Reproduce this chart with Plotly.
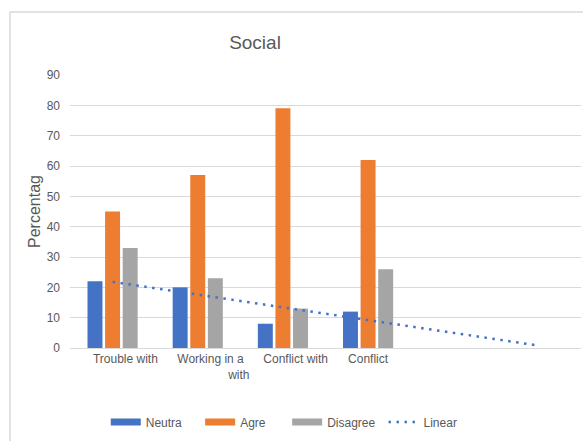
import numpy as np
import plotly.graph_objects as go

categories = ["Trouble with", "Working in a<br>" + "\u00a0" * 17 + "with", "Conflict with", "Conflict"]
label_offsets = [0.15, 0.15, 0.15, 0.0]
neutral = [22, 20, 8, 12]
agree = [45, 57, 79, 62]
disagree = [33, 23, 13, 26]
y_ticks = [0, 10, 20, 30, 40, 50, 60, 70, 80, 90]

BLUE, ORANGE, GRAY = "#4472C4", "#ED7D31", "#A5A5A5"
TXT = "#595959"
FONT = "Liberation Sans, Arial, sans-serif"
NB = "\u00a0"
DOTS = "2.5px,5.5px"

x = np.arange(1, len(categories) + 1)
n_forward = 2
coef = np.polyfit(x, neutral, 1)
x_tr = np.array([1, len(categories) + n_forward])
y_tr = np.polyval(coef, x_tr)

fig = go.Figure()
for name, vals, col in [("Neutra", neutral, BLUE), ("Agre", agree, ORANGE), ("Disagree", disagree, GRAY)]:
    fig.add_trace(go.Bar(x=x, y=vals, name=name, marker=dict(color=col, line=dict(width=0)), showlegend=False))
fig.add_trace(go.Scatter(x=x_tr, y=y_tr, mode="lines", line=dict(color=BLUE, width=2.5, dash=DOTS),
                         showlegend=False, hoverinfo="skip"))
# legend entries
for name, col in [("Neutra" + NB * 4, BLUE), ("Agre" + NB * 5, ORANGE), ("Disagree" + NB * 1, GRAY)]:
    fig.add_trace(go.Scatter(x=[None], y=[None], mode="lines", name=name, line=dict(color=col, width=7)))
fig.add_trace(go.Scatter(x=[None], y=[None], mode="lines", name="Linear",
                         line=dict(color=BLUE, width=2.5, dash=DOTS)))

fig.update_layout(
    width=583, height=441,
    margin=dict(l=70, r=2, t=75, b=93),
    paper_bgcolor="white", plot_bgcolor="white",
    font=dict(family=FONT, size=12, color=TXT),
    barmode="group", bargap=0.38, bargroupgap=0.15,
    title=dict(text="Social", x=255 / 583, xanchor="center", y=1 - 42 / 441, yanchor="middle",
               font=dict(size=19, color=TXT)),
    legend=dict(orientation="h", x=0.07, xanchor="left", y=-0.271, yanchor="middle",
                font=dict(size=12, color=TXT), itemwidth=30, traceorder="normal"),
    showlegend=True,
)
fig.update_xaxes(range=[0.5, 6.5], tickvals=x + np.array(label_offsets), ticktext=categories, showgrid=False,
                 showline=True, linecolor="#D9D9D9", linewidth=1, ticks="", zeroline=False,
                 tickfont=dict(size=12, color=TXT), fixedrange=True)
fig.update_yaxes(range=[0, 90], tickvals=y_ticks, showgrid=True, gridcolor="#D9D9D9", gridwidth=1,
                 zeroline=False, showline=False, ticks="", ticklabelstandoff=9,
                 title=dict(text="Percentag", standoff=2, font=dict(size=16, color=TXT)),
                 tickfont=dict(size=12, color=TXT))
fig.add_shape(type="rect", xref="paper", yref="paper", x0=-60 / 511, x1=1.05, y0=-1, y1=1 + 63 / 273,
              line=dict(color="#D9D9D9", width=1.5), fillcolor="rgba(0,0,0,0)", layer="below")

fig.write_html("out.html")
